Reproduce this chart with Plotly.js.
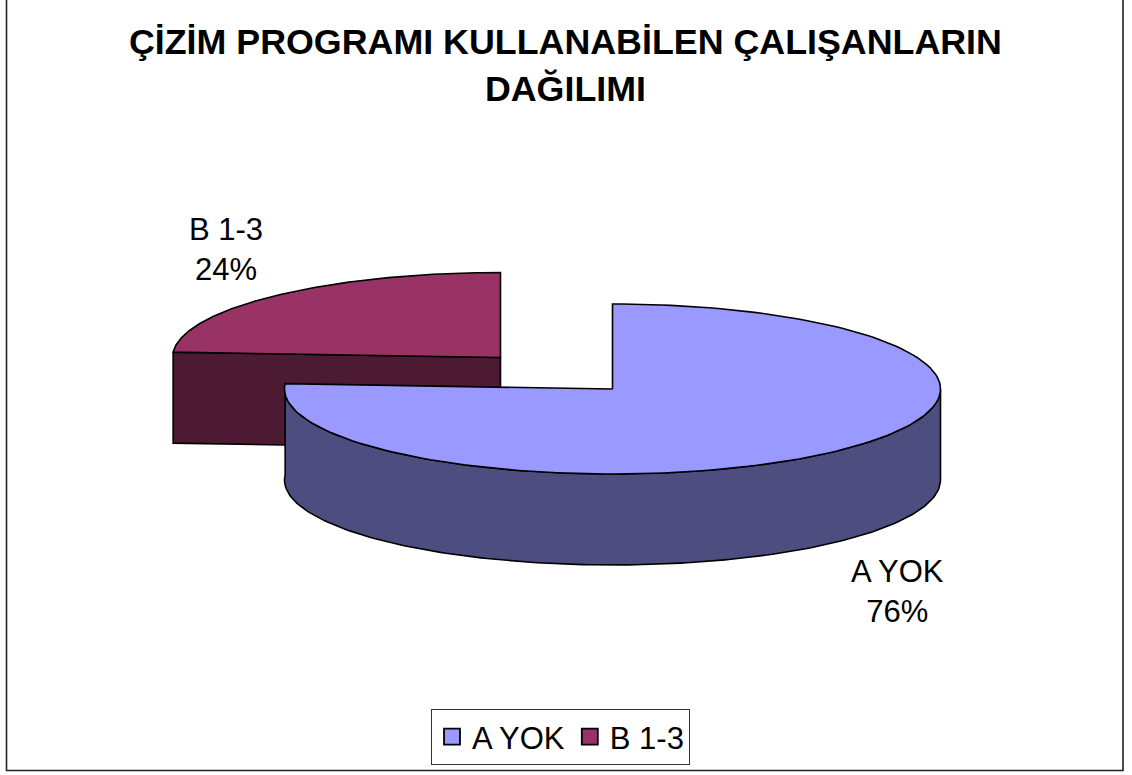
<!DOCTYPE html>
<html><head><meta charset="utf-8">
<script src="https://cdn.plot.ly/plotly-3.0.1.min.js"></script>
<style>html,body{margin:0;padding:0;background:#fff}</style></head>
<body><div id="chart" style="width:1132px;height:775px"></div>
<script>
const categories = ["A YOK", "B 1-3"];
const values = [76, 24];
const topColors = ["#9999FF", "#993366"];
const sideColors = ["#4D4D80", "#4D1A33"];
const titleText = "ÇİZİM PROGRAMI KULLANABİLEN ÇALIŞANLARIN<br>DAĞILIMI";
const FONT = "Liberation Sans, Arial, sans-serif";

// pie projection, in plot units
const RX = 328, RY = 85, DEPTH = 91;
const centerA = [612.5, 389], explodedB = [500.5, 357.5];

const total = values.reduce((a, b) => a + b, 0);
const endAngle = 360 * values[0] / total;
function pt(c, deg, dy) {
  const r = deg * Math.PI / 180;
  return [c[0] + RX * Math.sin(r), c[1] - RY * Math.cos(r) + (dy || 0)];
}
function arc(c, from, to, dy) {
  const out = [], n = 160;
  for (let i = 0; i <= n; i++) out.push(pt(c, from + (to - from) * i / n, dy));
  return out;
}
function poly(points, fill, name) {
  return {
    type: "scatter", mode: "lines", fill: "toself", fillcolor: fill,
    x: points.map(p => p[0]), y: points.map(p => p[1]),
    line: {color: "#000", width: 1.6}, name: name, showlegend: false,
    hoverinfo: "skip"
  };
}
function closed(points) { return points.concat([points[0]]); }

// slice B (exploded): cut face, then top
const bTopArc = arc(explodedB, endAngle, 360);
const bEdge = pt(explodedB, endAngle);
const bWall = closed([bEdge, explodedB, [explodedB[0], explodedB[1] + DEPTH], [bEdge[0], bEdge[1] + DEPTH]]);
const bTop = closed([explodedB].concat(bTopArc));

// slice A: outer wall (front half), then top
const wallFront = arc(centerA, 90, endAngle);
const wallBack = arc(centerA, endAngle, 90, DEPTH);
const aWall = closed(wallFront.concat(wallBack));
const aTop = closed([centerA].concat(arc(centerA, 0, endAngle)));

const traces = [
  poly(bWall, sideColors[1], categories[1] + " wall"),
  poly(bTop, topColors[1], categories[1] + " top"),
  poly(aWall, sideColors[0], categories[0] + " wall"),
  poly(aTop, topColors[0], categories[0] + " top"),
  // legend keys
  {type: "scatter", mode: "markers", x: [null], y: [null], name: categories[0], showlegend: true,
   marker: {symbol: "square", size: 17, color: topColors[0], line: {color: "#000", width: 1.8}}},
  {type: "scatter", mode: "markers", x: [null], y: [null], name: categories[1], showlegend: true,
   marker: {symbol: "square", size: 17, color: topColors[1], line: {color: "#000", width: 1.8}}}
];

const labelPos = [[897, 591], [226, 249]];
const annotations = categories.map((c, i) => ({
  x: labelPos[i][0], y: labelPos[i][1], xref: "x", yref: "y",
  text: c + "<br>" + values[i] + "%", showarrow: false,
  font: {family: FONT, size: 31, color: "#000"}, align: "center"
}));

const layout = {
  width: 1132, height: 775, margin: {l: 0, r: 0, t: 0, b: 0},
  paper_bgcolor: "#fff", plot_bgcolor: "#fff", hovermode: false,
  xaxis: {range: [0, 1132], visible: false, fixedrange: true},
  yaxis: {range: [775, 0], visible: false, fixedrange: true},
  title: {text: titleText, font: {family: FONT, size: 35.8, color: "#000", weight: "bold"},
          x: 0.4995, xanchor: "center", y: 0.93, yanchor: "middle"},
  annotations: annotations,
  shapes: [{type: "rect", xref: "x", yref: "y", x0: 6.5, y0: -3, x1: 1123, y1: 770.5,
            line: {color: "#222", width: 1.6}, fillcolor: "rgba(0,0,0,0)", layer: "below"}],
  legend: {orientation: "h", x: 560.5 / 1132, xref: "paper", y: 0.049, bordercolor: "#333", borderwidth: 1,
           xanchor: "center", yanchor: "middle", font: {family: FONT, size: 31, color: "#000"},
           bgcolor: "#fff", itemclick: false, itemdoubleclick: false}
};
Plotly.newPlot("chart", traces, layout, {displayModeBar: false, staticPlot: true});
</script></body></html>
